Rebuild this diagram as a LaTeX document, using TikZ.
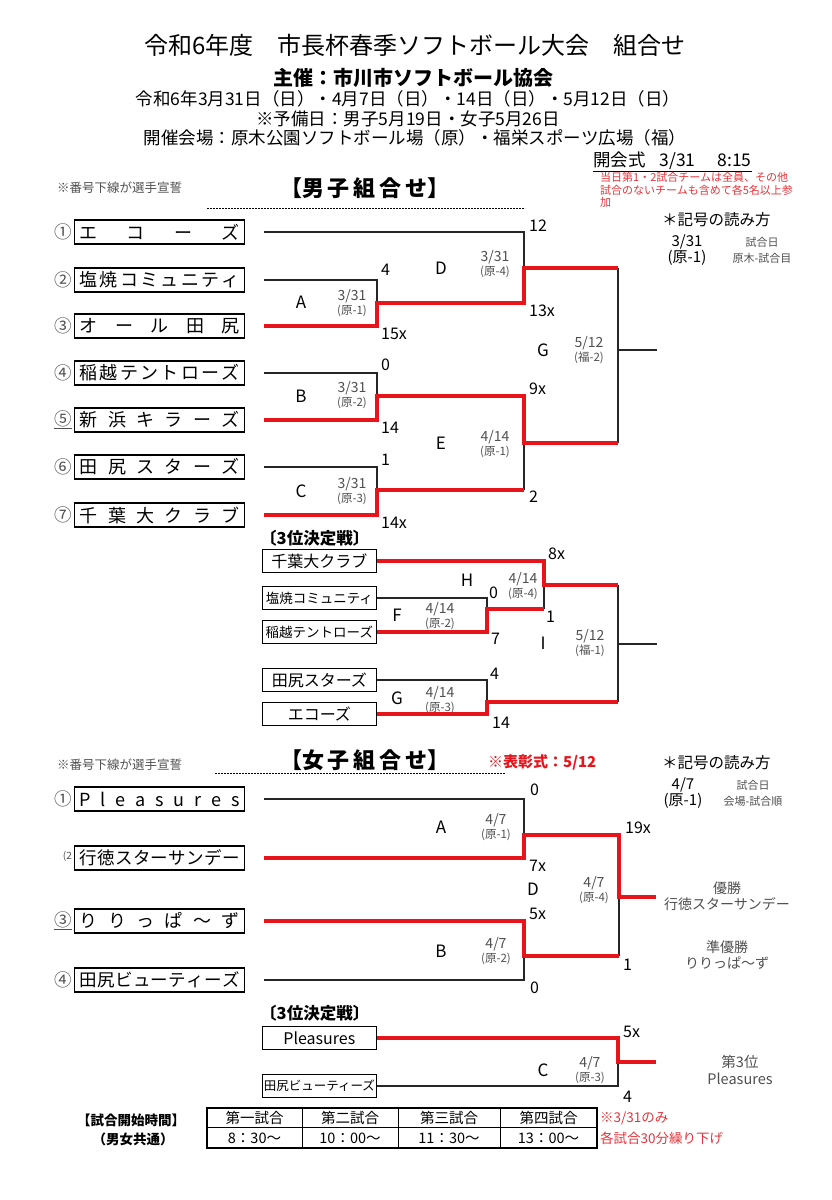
\documentclass[tikz,border=0pt]{standalone}
\usepackage{fontspec}
\setmainfont{Noto Sans CJK JP}
\usetikzlibrary{positioning}
\definecolor{brkRed}{HTML}{E8141B}
\definecolor{noteRed}{HTML}{E8343A}
\definecolor{infoGray}{HTML}{505050}
\newcommand\fsz[2]{\fontsize{#1}{#2}\selectfont}

\begin{document}
\begin{tikzpicture}[x=1pt, y=-1pt,
    teambox/.style={draw, line width=1.3pt, anchor=west, minimum height=24pt,
                    text width=160pt, inner xsep=5pt, inner ysep=0pt, font=\fsz{18}{20}},
    smallbox/.style={draw, line width=1.3pt, anchor=east, minimum width=114pt,
                     minimum height=23pt, inner sep=1pt, font=\fsz{16}{16}},
    seed/.style={inner sep=0pt, text=infoGray, font=\fsz{17.5}{18}},
    lose/.style={line width=1.3pt, black!85},
    win/.style={line width=3.8pt, brkRed, line join=miter},
    score/.style={anchor=west, inner sep=1pt, font=\fsz{16}{16}},
    gameid/.style={inner sep=0pt, font=\fsz{17}{17}},
    gameinfo/.style={align=center, inner sep=0pt, text=infoGray, font=\fsz{14}{14.5}},
    head/.style={inner sep=0pt, font=\fsz{17.5}{20}},
    section/.style={inner sep=0pt, font=\fsz{22}{22}\bfseries},
    redtext/.style={inner sep=0pt, text=noteRed, align=left},
    legend/.style={inner sep=0pt, align=center}
  ]
  \fill[white] (0,0) rectangle (831,1200);
  \useasboundingbox (0,0) rectangle (831,1200);

  % header
  \node[inner sep=0pt, font=\fsz{24}{24}] (title) at (415,45) {令和6年度　市長杯春季ソフトボール大会　組合せ};
  \node[inner sep=0pt, font=\fsz{20}{20}\bfseries] (host) at (413,78) {主催：市川市ソフトボール協会};
  \node[head] (dates) at (408,99) {令和6年3月31日（日）・4月7日（日）・14日（日）・5月12日（日）};
  \node[head] (spare) at (408,119) {※予備日：男子5月19日・女子5月26日};
  \node[head] (venue) at (415,138) {開催会場：原木公園ソフトボール場（原）・福栄スポーツ広場（福）};

  \node[anchor=west, inner sep=0pt, font=\fsz{17.5}{18}] (opening) at (593,162)
    {\underline{開会式\hspace{14pt}3/31\hspace{22pt}8:15}};
  \node[redtext, anchor=north west, font=\fsz{11}{12.5}] (rule) at (600,172)
    {当日第1・2試合チームは全員、その他\\試合のないチームも含めて各5名以上参\\加};

  % men
  \node[anchor=west, inner sep=0pt, text=infoGray, font=\fsz{12.5}{13}] (oathM) at (57,188) {※番号下線が選手宣誓};
  \node[section] (titleM) at (365,188) {【男\hspace{4pt}子\hspace{4pt}組\hspace{4pt}合\hspace{4pt}せ】};
  \draw[dashed, dash pattern=on 2pt off 1pt, line width=0.9pt] (207,208) -- (525,208);

  \node[anchor=west, inner sep=0pt, font=\fsz{15.5}{16}] (keyM) at (662,220) {＊記号の読み方};
  \node[legend, font=\fsz{15}{16}] (keyMa) at (687,250) {3/31\\(原-1)};
  \node[legend, font=\fsz{11}{16}, text=infoGray] (keyMb) at (762,250) {試合日\\原木-試合目};

  \foreach \i/\y/\num/\name in {
      1/232/①/エ\hfill コ\hfill ー\hfill ズ,
      2/280/②/塩\hfill 焼\hfill コ\hfill ミ\hfill ュ\hfill ニ\hfill テ\hfill ィ,
      3/326/③/オ\hfill ー\hfill ル\hfill 田\hfill 尻,
      4/373/④/稲\hfill 越\hfill テ\hfill ン\hfill ト\hfill ロ\hfill ー\hfill ズ,
      5/420/\underline{⑤}/新\hfill 浜\hfill キ\hfill ラ\hfill ー\hfill ズ,
      6/467/⑥/田\hfill 尻\hfill ス\hfill タ\hfill ー\hfill ズ,
      7/515/⑦/千\hfill 葉\hfill 大\hfill ク\hfill ラ\hfill ブ} {
    \node[teambox] (m\i) at (74,\y) {\name};
    \node[seed, left=2pt of m\i] (ms\i) {\num};
  }

  \coordinate (gA) at (377,303);
  \coordinate (gB) at (377,396);
  \coordinate (gC) at (377,490);
  \coordinate (gD) at (524,268);
  \coordinate (gE) at (524,443);
  \coordinate (gG) at (618,350);

  \draw[lose] ([xshift=19]m1.east) -| (gD);
  \draw[lose] ([xshift=19]m2.east) -| (gA);
  \draw[lose] ([xshift=19]m4.east) -| (gB);
  \draw[lose] ([xshift=19]m6.east) -| (gC);
  \draw[lose] (gC -| gE) -- (gE);
  \draw[lose] (gD -| gG) -- (gE -| gG);
  \draw[lose] (gG) -- ++(39,0);
  \draw[win] ([xshift=19]m3.east) -| (gA) -- (gA -| gD) -- (gD) -- (gD -| gG);
  \draw[win] ([xshift=19]m5.east) -| (gB) -- (gB -| gE) -- (gE) -- (gE -| gG);
  \draw[win] ([xshift=19]m7.east) -| (gC) -- (gC -| gE);

  % men, 3rd place
  \node[inner sep=0pt, anchor=west, font=\fsz{16.5}{17}\bfseries] (thirdM) at (260,538) {〔3位決定戦〕};
  \foreach \i/\y/\name in {1/561/千葉大クラブ, 2/598/{\fsz{13.5}{14}塩焼コミュニティ},
      3/632/{\fsz{13.5}{14}稲越テントローズ}, 4/680/田尻スターズ, 5/714/エコーズ}
    \node[smallbox] (t\i) at (377,\y) {\name};

  \coordinate (gF) at (487,609);
  \coordinate (gH) at (544,585);
  \coordinate (gGb) at (487,702);
  \coordinate (gI) at (618,644);

  \draw[lose] (t2.east) -| (gF);
  \draw[lose] (gH) -- (gF -| gH);
  \draw[lose] (t4.east) -| (gGb);
  \draw[lose] (gH -| gI) -- (gGb -| gI);
  \draw[lose] (gI) -- ++(39,0);
  \draw[win] (t1.east) -| (gH) -- (gH -| gI);
  \draw[win] (t3.east) -| (gF) -- (gF -| gH);
  \draw[win] (t5.east) -| (gGb) -- (gGb -| gI);

  % women
  \node[anchor=west, inner sep=0pt, text=infoGray, font=\fsz{12.5}{13}] (oathW) at (57,765) {※番号下線が選手宣誓};
  \node[section] (titleW) at (365,760) {【女\hspace{4pt}子\hspace{4pt}組\hspace{4pt}合\hspace{4pt}せ】};
  \draw[dashed, dash pattern=on 2pt off 1pt, line width=0.9pt] (215,773) -- (505,773);
  \node[anchor=west, inner sep=0pt, text=brkRed, font=\fsz{15}{15}\bfseries] (award) at (488,762) {※表彰式：5/12};

  \node[anchor=west, inner sep=0pt, font=\fsz{15.5}{16}] (keyW) at (662,763) {＊記号の読み方};
  \node[legend, font=\fsz{15}{16}] (keyWa) at (683,793) {4/7\\(原-1)};
  \node[legend, font=\fsz{11}{16}, text=infoGray] (keyWb) at (753,793) {試合日\\会場-試合順};

  \foreach \i/\y/\num/\name in {
      1/799/①/P\hfill l\hfill e\hfill a\hfill s\hfill u\hfill r\hfill e\hfill s,
      2/858/{\raisebox{5pt}{\fsz{10}{10}(2}}/{\fsz{17.5}{18}行\hfill 徳\hfill ス\hfill タ\hfill ー\hfill サ\hfill ン\hfill デ\hfill ー},
      3/921/\underline{③}/り\hfill り\hfill っ\hfill ぱ\hfill ～\hfill ず,
      4/980/④/{\fsz{17.5}{18}田\hfill 尻\hfill ビ\hfill ュ\hfill ー\hfill テ\hfill ィ\hfill ー\hfill ズ}} {
    \node[teambox] (w\i) at (74,\y) {\name};
    \node[seed, left=2pt of w\i] (ws\i) {\num};
  }

  \coordinate (wA) at (524,835);
  \coordinate (wB) at (524,956);
  \coordinate (wD) at (619,897);

  \draw[lose] ([xshift=19]w1.east) -| (wA);
  \draw[lose] ([xshift=19]w4.east) -| (wB);
  \draw[lose] (wB -| wD) -- (wD);
  \draw[win] ([xshift=19]w2.east) -| (wA) -- (wA -| wD) -- (wD) -- ++(37,0);
  \draw[win] ([xshift=19]w3.east) -| (wB) -- (wB -| wD);

  \node[legend, text=infoGray, font=\fsz{14}{16.5}] (champ) at (727,896) {優勝\\行徳スターサンデー};
  \node[legend, text=infoGray, font=\fsz{14}{16.5}] (second) at (727,955) {準優勝\\りりっぱ～ず};

  % women, 3rd place
  \node[inner sep=0pt, anchor=west, font=\fsz{16.5}{17}\bfseries] (thirdW) at (260,1013) {〔3位決定戦〕};
  \node[smallbox] (p1) at (377,1038) {Pleasures};
  \node[smallbox, font=\fsz{12.5}{13}] (p2) at (377,1086) {田尻ビューティーズ};
  \coordinate (wC) at (618,1062);
  \draw[lose] (p2.east) -| (wC);
  \draw[win] (p1.east) -| (wC) -- ++(38,0);
  \node[legend, text=infoGray, font=\fsz{14.5}{17}] (third) at (740,1070) {第3位\\Pleasures};

  % game letters
  \foreach \n/\g/\x/\y in {mA/A/301/302, mB/B/301/396, mC/C/301/491, mD/D/441/268,
      mE/E/441/443, mG/G/543/350, tH/H/467/580, tF/F/397/615, tG/G/397/698, tI/I/543/643,
      wA/A/441/827, wB/B/441/951, wD/D/533/889, wC/C/543/1070}
    \node[gameid] (id\n) at (\x,\y) {\g};

  % date and field of each game
  \foreach \n/\x/\y/\d/\v in {mA/352/303/{3/31}/原-1, mB/352/395/{3/31}/原-2,
      mC/352/491/{3/31}/原-3, mD/495/264/{3/31}/原-4, mE/495/444/{4/14}/原-1,
      mG/589/350/{5/12}/福-2, tF/440/616/{4/14}/原-2, tH/523/586/{4/14}/原-4,
      tG/440/700/{4/14}/原-3, tI/590/643/{5/12}/福-1, wA/496/827/{4/7}/原-1,
      wB/496/951/{4/7}/原-2, wD/594/890/{4/7}/原-4, wC/590/1070/{4/7}/原-3}
    \node[gameinfo] (info\n) at (\x,\y) {\d\\{\fsz{11.5}{14.5}(\v)}};

  % scores
  \foreach \x/\y/\s [count=\k] in {528/226/12, 380/270/4, 380/334/15x, 528/311/13x,
      380/365/0, 380/428/14, 528/389/9x, 380/460/1, 528/497/2, 380/523/14x,
      547/554/8x, 488/593/0, 545/617/1, 490/639/7, 489/674/4, 491/723/14,
      529/790/0, 624/828/19x, 528/866/7x, 528/914/5x, 622/965/1, 529/988/0,
      622/1032/5x, 622/1097/4}
    \node[score] (sc\k) at (\x,\y) {\s};

  % start times
  \node[inner sep=0pt, font=\fsz{13.5}{14}\bfseries] (timeHead) at (131,1120) {【試合開始時間】};
  \node[inner sep=0pt, font=\fsz{13.5}{14}\bfseries] (timeSub) at (133,1139) {（男女共通）};
  \foreach \xa/\xb/\g/\t [count=\k] in {207/302/第一試合/8：30～, 302/398/第二試合/10：00～,
      398/500/第三試合/11：30～, 500/597/第四試合/13：00～} {
    \draw[line width=1pt] (\xa,1108) rectangle (\xb,1127);
    \draw[line width=1pt] (\xa,1127) rectangle (\xb,1148);
    \node[inner sep=0pt, font=\fsz{14.5}{15}] (slot\k) at ({(\xa+\xb)/2},1118) {\g};
    \node[inner sep=0pt, font=\fsz{14.5}{15}] (time\k) at ({(\xa+\xb)/2},1138) {\t};
  }
  \draw[line width=1.6pt] (207,1108) rectangle (597,1148);
  \node[redtext, anchor=west, font=\fsz{13.5}{14}] (late1) at (600,1118) {※3/31のみ};
  \node[redtext, anchor=west, font=\fsz{13.5}{14}] (late2) at (600,1138) {各試合30分繰り下げ};
\end{tikzpicture}
\end{document}
